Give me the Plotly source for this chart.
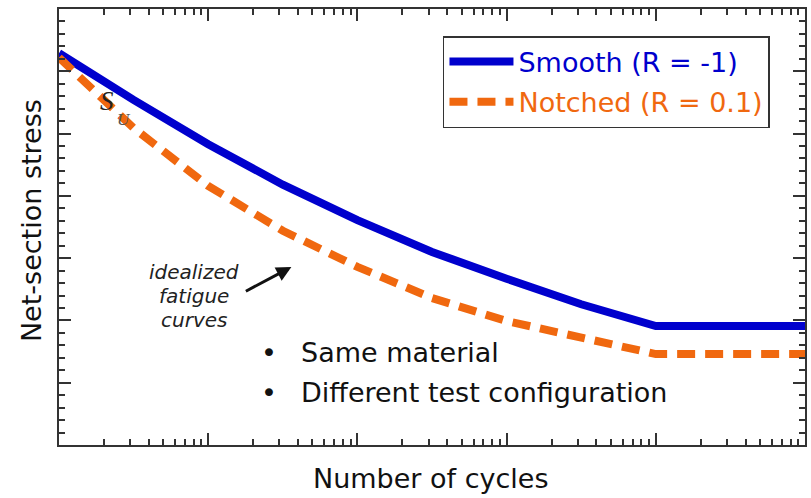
import plotly.graph_objects as go

# ---- data ----
cycles = [100, 316, 1000, 3162, 10000, 31623, 100000, 316228, 1000000, 10000000]
smooth_stress = [6.29, 5.54, 4.83, 4.18, 3.61, 3.10, 2.67, 2.26, 1.91, 1.91]
notched_stress = [6.22, 5.09, 4.16, 3.44, 2.86, 2.36, 1.99, 1.73, 1.46, 1.46]

smooth_name = "Smooth (R = -1)"
notched_name = "Notched (R = 0.1)"
x_title = "Number of cycles"
y_title = "Net-section stress"
bullets = ["Same material", "Different test configuration"]
curve_note = ["idealized", "fatigue", "curves"]

BLUE = "#0000cd"
ORANGE = "#f0680f"
FONT = "DejaVu Sans"
FRAME = "#333333"

W, H = 811, 498
L, R, T, B = 59, 4, 9, 53
PW, PH = W - L - R, H - T - B


def px(x):
    return (x - L) / PW


def py(y):
    return (H - B - y) / PH


fig = go.Figure()
fig.add_trace(go.Scatter(
    x=cycles, y=smooth_stress, mode="lines",
    name=f"<span style='color:{BLUE}'>{smooth_name}</span>",
    line=dict(color=BLUE, width=8), legendgroup="a"))
fig.add_trace(go.Scatter(
    x=cycles, y=notched_stress, mode="lines",
    name=f"<span style='color:{ORANGE}'>{notched_name}</span>",
    line=dict(color=ORANGE, width=8, dash="18px,10px"), legendgroup="b"))

ann = []
ann.append(dict(x=px(432), y=py(478), xref="paper", yref="paper", text=x_title,
                showarrow=False, xanchor="center", yanchor="middle",
                font=dict(family=FONT, size=27, color="#111")))
ann.append(dict(x=px(31), y=py(221), xref="paper", yref="paper", text=y_title,
                textangle=-90, showarrow=False, xanchor="center", yanchor="middle",
                font=dict(family=FONT, size=27, color="#111")))
for t, yy in zip(bullets, [353, 392]):
    ann.append(dict(x=px(270), y=py(yy), xref="paper", yref="paper", text="\u2022",
                    showarrow=False, xanchor="center", yanchor="middle",
                    font=dict(family=FONT, size=27, color="#111")))
    ann.append(dict(x=px(300), y=py(yy), xref="paper", yref="paper", text=t,
                    showarrow=False, xanchor="left", yanchor="middle",
                    font=dict(family=FONT, size=27, color="#111")))
for t, yy in zip(curve_note, [272, 296, 320]):
    ann.append(dict(x=px(194), y=py(yy), xref="paper", yref="paper", text=f"<i>{t}</i>",
                    showarrow=False, xanchor="center", yanchor="middle",
                    font=dict(family=FONT, size=20, color="#222")))
ann.append(dict(x=px(292), y=py(267), xref="paper", yref="paper", text="",
                showarrow=True, ax=-47, ay=25, arrowhead=2, arrowsize=1,
                arrowwidth=3, arrowcolor="#111", standoff=0))
ann.append(dict(x=px(107), y=py(101), xref="paper", yref="paper", text="<i>S</i>",
                showarrow=False, xanchor="center", yanchor="middle",
                font=dict(family="Liberation Serif", size=27, color="#222")))
ann.append(dict(x=px(124), y=py(120), xref="paper", yref="paper", text="<i>U</i>",
                showarrow=False, xanchor="center", yanchor="middle",
                font=dict(family="Liberation Serif", size=17, color="#555")))

fig.update_layout(
    width=W, height=H,
    margin=dict(l=L, r=R, t=T, b=B, pad=0),
    paper_bgcolor="white", plot_bgcolor="white",
    showlegend=True,
    legend=dict(x=px(444), y=py(36), xanchor="left", yanchor="top",
                bordercolor=FRAME, borderwidth=1.5, bgcolor="white",
                font=dict(family=FONT, size=27), itemwidth=64,
                traceorder="grouped", tracegroupgap=2),
    annotations=ann,
)
fig.update_xaxes(type="log", range=[2, 7], dtick=1, showticklabels=False,
                 ticks="inside", ticklen=12, tickwidth=1.5, tickcolor=FRAME,
                 showline=True, linecolor=FRAME, linewidth=1.5, mirror="allticks",
                 showgrid=False, zeroline=False,
                 minor=dict(dtick="D1", ticks="inside", ticklen=6, tickwidth=1.5,
                            tickcolor=FRAME, showgrid=False))
fig.update_yaxes(range=[0, 7], dtick=1, showticklabels=False,
                 ticks="inside", ticklen=12, tickwidth=1.5, tickcolor=FRAME,
                 showline=True, linecolor=FRAME, linewidth=1.5, mirror="allticks",
                 showgrid=False, zeroline=False,
                 minor=dict(dtick=0.2, ticks="inside", ticklen=6, tickwidth=1.5,
                            tickcolor=FRAME, showgrid=False))

fig.write_html("out.html",
               config={"displayModeBar": False},
               post_script="document.body.style.margin='0px';"
                           "document.body.style.overflow='hidden';")
